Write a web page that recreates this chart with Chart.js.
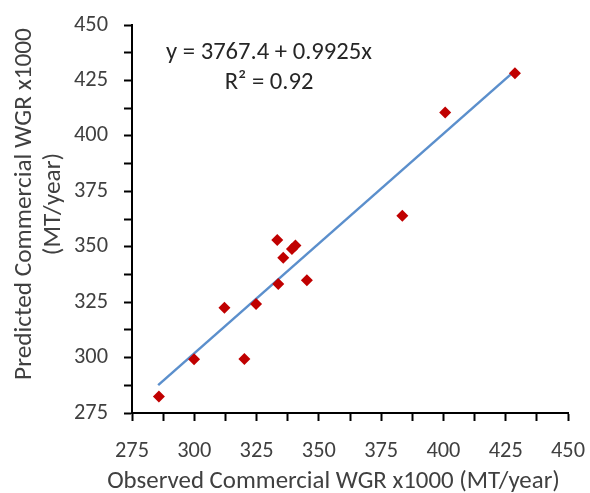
<!DOCTYPE html>
<html>
<head>
<meta charset="utf-8">
<script src="https://cdn.jsdelivr.net/npm/chart.js@4"></script>
<style>
  html, body { margin: 0; padding: 0; background: #fff; }
  #wrap { width: 590px; height: 493px; }
</style>
</head>
<body>
<div id="wrap"><canvas id="myChart"></canvas></div>
<script>
// observed vs predicted commercial WGR (x1000 MT/year)
const observed  = [285.8, 299.9, 312.1, 320.1, 324.8, 333.7, 333.3, 335.7, 339.2, 340.6, 345.2, 383.5, 400.7, 428.7];
const predicted = [282.4, 299.2, 322.5, 299.4, 324.2, 333.2, 353.0, 345.0, 349.0, 350.6, 334.9, 364.0, 410.5, 428.2];

// trendline ends
const trendX = [285.5, 427.6];
const trendY = [287.6, 428.3];

const eqLines = ['y = 3767.4 + 0.9925x', 'R\u00b2 = 0.92'];
const eqPos = [[330, 437.4], [330, 423.8]];

const xTitle = 'Observed Commercial WGR x1000 (MT/year)';
const yTitle = ['Predicted Commercial WGR x1000', '(MT/year)'];

const FONT = 'Carlito, Lato, sans-serif';
const TXT = '#404040';

// Calibri isn't here, so size the stand-in font by the widths seen in the picture
const mctx = document.createElement('canvas').getContext('2d');
function fitSize(text, target) {
  mctx.font = '100px ' + FONT;
  return 100 * target / mctx.measureText(text).width;
}
const tickSize = fitSize('450', 34);
const xTitleSize = fitSize(xTitle, 453);
const yTitleSize = fitSize(yTitle[0], 352);
const eqSize = fitSize(eqLines[0], 206);

const textPlugin = {
  id: 'txt',
  afterDraw(chart) {
    const c = chart.ctx, xs = chart.scales.x, ys = chart.scales.y, a = chart.chartArea;
    c.save();
    c.textAlign = 'center';
    c.textBaseline = 'middle';

    c.font = eqSize + 'px ' + FONT;
    c.fillStyle = '#262626';
    eqLines.forEach((t, i) => {
      c.fillText(t, xs.getPixelForValue(eqPos[i][0]), ys.getPixelForValue(eqPos[i][1]));
    });

    c.fillStyle = TXT;
    c.font = xTitleSize + 'px ' + FONT;
    c.fillText(xTitle, (a.left + a.right) / 2 - 16.5, a.bottom + 69);

    c.font = yTitleSize + 'px ' + FONT;
    c.translate(0, (a.top + a.bottom) / 2 - 15);
    c.rotate(-Math.PI / 2);
    c.fillText(yTitle[0], 0, 25);
    c.fillText(yTitle[1], 0, 54);
    c.restore();
  }
};

function noPad(s) {
  s.paddingTop = s.paddingBottom = s.paddingLeft = s.paddingRight = 0;
}

const ctx = document.getElementById('myChart');

new Chart(ctx, {
  type: 'scatter',
  data: {
    datasets: [{
      label: 'data',
      data: observed.map((x, i) => ({ x: x, y: predicted[i] })),
      pointStyle: 'rectRot',
      pointRadius: 6,
      backgroundColor: '#C00000',
      borderColor: '#C00000',
      borderWidth: 0,
      order: 1
    }, {
      type: 'line',
      label: 'trend',
      data: trendX.map((x, i) => ({ x: x, y: trendY[i] })),
      borderColor: '#5B8FCC',
      borderWidth: 2.5,
      pointRadius: 0,
      fill: false,
      order: 2
    }]
  },
  options: {
    responsive: true,
    maintainAspectRatio: false,
    animation: false,
    layout: { padding: { top: 25, right: 22, left: 0, bottom: 0 } },
    plugins: {
      legend: { display: false },
      tooltip: { enabled: false }
    },
    scales: {
      x: {
        type: 'linear',
        min: 275, max: 450,
        afterFit: s => { s.height = 80; noPad(s); },
        border: { display: true, color: '#000', width: 2 },
        grid: { drawOnChartArea: false, drawTicks: true, tickLength: 8, color: '#000', tickWidth: 2 },
        ticks: {
          stepSize: 12.5, autoSkip: false, maxRotation: 0,
          color: TXT, font: { family: FONT, size: tickSize }, padding: 17,
          callback: v => (v % 25 === 0 ? v : '')
        },
        title: { display: false }
      },
      y: {
        type: 'linear',
        min: 275, max: 450,
        afterFit: s => { s.width = 132; noPad(s); },
        border: { display: true, color: '#000', width: 2 },
        grid: { drawOnChartArea: false, drawTicks: true, tickLength: 8, color: '#000', tickWidth: 2 },
        ticks: {
          stepSize: 12.5, autoSkip: false,
          color: TXT, font: { family: FONT, size: tickSize }, padding: 16,
          callback: v => (v % 25 === 0 ? v : '')
        },
        title: { display: false }
      }
    }
  },
  plugins: [textPlugin]
});
</script>
</body>
</html>
